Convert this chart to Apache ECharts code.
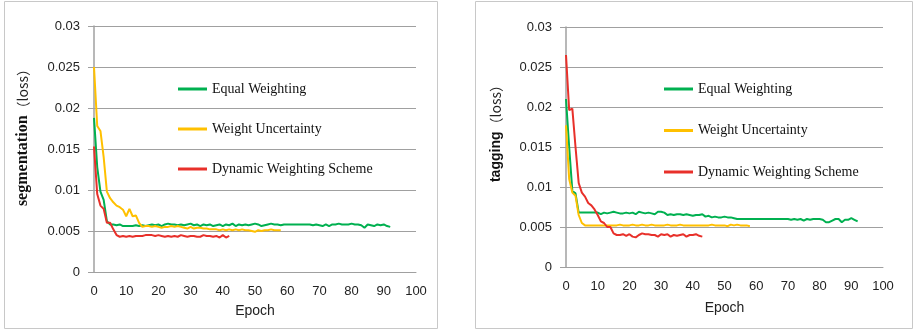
<!DOCTYPE html>
<html><head><meta charset="utf-8">
<script src="https://cdn.jsdelivr.net/npm/echarts@6/dist/echarts.min.js"></script>
<style>html,body{margin:0;padding:0;background:#fff}#c{width:914px;height:331px}</style>
</head><body><div id="c"></div>
<script>
var seriesNames = ['Equal Weighting', 'Weight Uncertainty', 'Dynamic Weighting Scheme'];
var xTicks = [0, 10, 20, 30, 40, 50, 60, 70, 80, 90, 100];
var yTicks = [0, 0.005, 0.01, 0.015, 0.02, 0.025, 0.03];

// Segmentation loss (left chart), one value per epoch starting at 0
var segEqual = [
  0.0188,0.0128,0.0098,0.0088,0.0062,0.0058,0.0058,0.0057,0.0058,0.0056,
  0.0056,0.0056,0.0056,0.0057,0.0056,0.0057,0.0056,0.0057,0.0058,0.0057,
  0.0058,0.0056,0.0058,0.0059,0.0058,0.0058,0.0057,0.0058,0.0057,0.0058,
  0.0059,0.0057,0.0058,0.0056,0.0058,0.0057,0.0058,0.0056,0.0057,0.0058,
  0.0056,0.0058,0.0057,0.0059,0.0056,0.0058,0.0057,0.0058,0.0057,0.0058,
  0.0059,0.0058,0.0056,0.0057,0.0058,0.0059,0.0058,0.0058,0.0057,0.0058,
  0.0058,0.0058,0.0058,0.0058,0.0058,0.0058,0.0058,0.0058,0.0057,0.0058,
  0.0057,0.0056,0.0058,0.0056,0.0058,0.0058,0.0059,0.0058,0.0058,0.0058,
  0.0059,0.0058,0.0058,0.0057,0.0054,0.0058,0.0057,0.0056,0.0058,0.0057,
  0.0058,0.0056,0.0055];
var segUncert = [
  0.0250,0.0178,0.0172,0.0140,0.0098,0.0090,0.0085,0.0081,0.0079,0.0076,
  0.0068,0.0077,0.0068,0.0069,0.0060,0.0055,0.0056,0.0056,0.0055,0.0056,
  0.0055,0.0054,0.0055,0.0055,0.0056,0.0055,0.0056,0.0055,0.0054,0.0053,
  0.0055,0.0053,0.0054,0.0054,0.0053,0.0053,0.0052,0.0052,0.0052,0.0051,
  0.0052,0.0051,0.0052,0.0051,0.0052,0.0051,0.0052,0.0051,0.0051,0.0050,
  0.0049,0.0051,0.0050,0.0051,0.0051,0.0052,0.0051,0.0051,0.0051];
var segDynamic = [
  0.0153,0.0095,0.0081,0.0077,0.0060,0.0060,0.0052,0.0045,0.0043,0.0044,
  0.0043,0.0044,0.0043,0.0044,0.0044,0.0044,0.0045,0.0045,0.0045,0.0044,
  0.0045,0.0044,0.0043,0.0044,0.0043,0.0044,0.0043,0.0045,0.0044,0.0043,
  0.0044,0.0044,0.0043,0.0043,0.0045,0.0044,0.0044,0.0043,0.0044,0.0042,
  0.0045,0.0042,0.0044];

// Tagging loss (right chart)
var tagEqual = [
  0.0210,0.0150,0.0095,0.0092,0.0068,0.0068,0.0068,0.0068,0.0068,0.0068,
  0.0068,0.0066,0.0068,0.0067,0.0068,0.0069,0.0068,0.0067,0.0067,0.0068,
  0.0067,0.0068,0.0066,0.0069,0.0068,0.0067,0.0068,0.0067,0.0066,0.0069,
  0.0069,0.0068,0.0065,0.0066,0.0065,0.0066,0.0066,0.0065,0.0066,0.0065,
  0.0064,0.0065,0.0065,0.0066,0.0063,0.0064,0.0062,0.0063,0.0062,0.0062,
  0.0063,0.0062,0.0062,0.0061,0.0060,0.0060,0.0060,0.0060,0.0060,0.0060,
  0.0060,0.0060,0.0060,0.0060,0.0060,0.0060,0.0060,0.0060,0.0060,0.0060,
  0.0060,0.0059,0.0060,0.0059,0.0060,0.0058,0.0060,0.0059,0.0060,0.0060,
  0.0060,0.0059,0.0056,0.0056,0.0058,0.0060,0.0060,0.0056,0.0059,0.0059,
  0.0061,0.0059,0.0057];
var tagUncert = [
  0.0177,0.0110,0.0093,0.0089,0.0065,0.0055,0.0052,0.0052,0.0052,0.0052,
  0.0052,0.0052,0.0052,0.0052,0.0052,0.0052,0.0052,0.0053,0.0052,0.0052,
  0.0052,0.0053,0.0052,0.0052,0.0053,0.0052,0.0052,0.0053,0.0052,0.0052,
  0.0052,0.0052,0.0053,0.0052,0.0052,0.0052,0.0053,0.0052,0.0052,0.0052,
  0.0052,0.0052,0.0052,0.0052,0.0052,0.0052,0.0053,0.0052,0.0052,0.0052,
  0.0052,0.0051,0.0053,0.0052,0.0053,0.0052,0.0052,0.0052,0.0051];
var tagDynamic = [
  0.0265,0.0196,0.0198,0.0150,0.0105,0.0093,0.0088,0.0080,0.0077,0.0072,
  0.0065,0.0057,0.0055,0.0050,0.0050,0.0042,0.0040,0.0040,0.0041,0.0039,
  0.0041,0.0038,0.0037,0.0040,0.0042,0.0041,0.0041,0.0040,0.0040,0.0038,
  0.0041,0.0040,0.0041,0.0038,0.0040,0.0039,0.0040,0.0041,0.0038,0.0040,
  0.0040,0.0041,0.0039,0.0038];

var colors = ['#00B050', '#FFC000', '#E8302A'];
function pairs(arr){ return arr.map(function(v,i){ return [i, v]; }); }

var chart = echarts.init(document.getElementById('c'), null, {renderer:'canvas'});
var axisGray = '#a0a0a0';
function xAxis(gi){
  return {type:'value', gridIndex:gi, min:0, max:100, interval:10,
    name:'Epoch', nameLocation:'middle', nameGap: gi===0 ? 32 : 34,
    nameTextStyle:{fontFamily:'Liberation Sans', fontSize:14, color:'#222'},
    axisLine:{show:true, onZero:false, lineStyle:{color:axisGray, width:1}},
    axisTick:{show:false}, splitLine:{show:false},
    axisLabel:{fontFamily:'Liberation Sans', fontSize:13, color:'#222', margin:13}};
}
function yAxis(gi, title, titleStyle, pad){
  return {type:'value', gridIndex:gi, min:0, max:0.03, interval:0.005,
    name:'{t|'+title+'}{l|（loss）}', nameLocation:'middle', nameRotate:90,
    nameGap: gi===0 ? 63 : 63,
    nameTextStyle:{padding:[0,0,0,pad], rich:{
      t:titleStyle,
      l:{fontFamily:'Noto Sans CJK SC', fontSize:14, color:'#222'}}},
    axisLine:{show:true, lineStyle:{color:axisGray, width:1.5}},
    axisTick:{show:true, length:6, lineStyle:{color:axisGray}},
    splitLine:{show:true, lineStyle:{color:axisGray, width:1}},
    axisLabel:{fontFamily:'Liberation Sans', fontSize:13, color:'#222', margin:14,
      formatter:function(v){ return String(+v.toFixed(3)); }}};
}
function line(name, data, gi, ci){
  return {name:name, type:'line', xAxisIndex:gi, yAxisIndex:gi, data:pairs(data),
    showSymbol:false, symbol:'none', smooth:false, animation:false,
    lineStyle:{color:colors[ci], width:2}, itemStyle:{color:colors[ci]}};
}
function legend(left, top, gap){
  return {orient:'vertical', left:left, top:top, itemWidth:29, itemHeight:3, icon:'rect',
    itemGap:gap, data:seriesNames, selectedMode:false,
    textStyle:{fontFamily:'Liberation Serif', fontSize:14, color:'#111', lineHeight:18}};
}

chart.setOption({
  animation:false,
  color:colors,
  grid:[
    {left:94, top:26, width:322, height:246},
    {left:566, top:27, width:317, height:240}
  ],
  xAxis:[xAxis(0), xAxis(1)],
  yAxis:[
    yAxis(0, 'segmentation', {fontFamily:'Liberation Serif', fontWeight:'bold', fontSize:16, color:'#111'}, 30),
    yAxis(1, 'tagging', {fontFamily:'Liberation Sans', fontWeight:'bold', fontSize:14, color:'#111'}, 34)
  ],
  legend:[legend(173, 75, 22), legend(659, 75, 23.5)],
  graphic:[
    {type:'rect', shape:{x:4.5, y:1.5, width:433, height:327}, style:{fill:'none', stroke:'#c8c8c8', lineWidth:1}, silent:true},
    {type:'rect', shape:{x:475.5, y:1.5, width:437, height:327}, style:{fill:'none', stroke:'#c8c8c8', lineWidth:1}, silent:true}
  ],
  series:[
    line(seriesNames[0], segEqual, 0, 0),
    line(seriesNames[1], segUncert, 0, 1),
    line(seriesNames[2], segDynamic, 0, 2),
    line(seriesNames[0], tagEqual, 1, 0),
    line(seriesNames[1], tagUncert, 1, 1),
    line(seriesNames[2], tagDynamic, 1, 2)
  ]
});
</script></body></html>
